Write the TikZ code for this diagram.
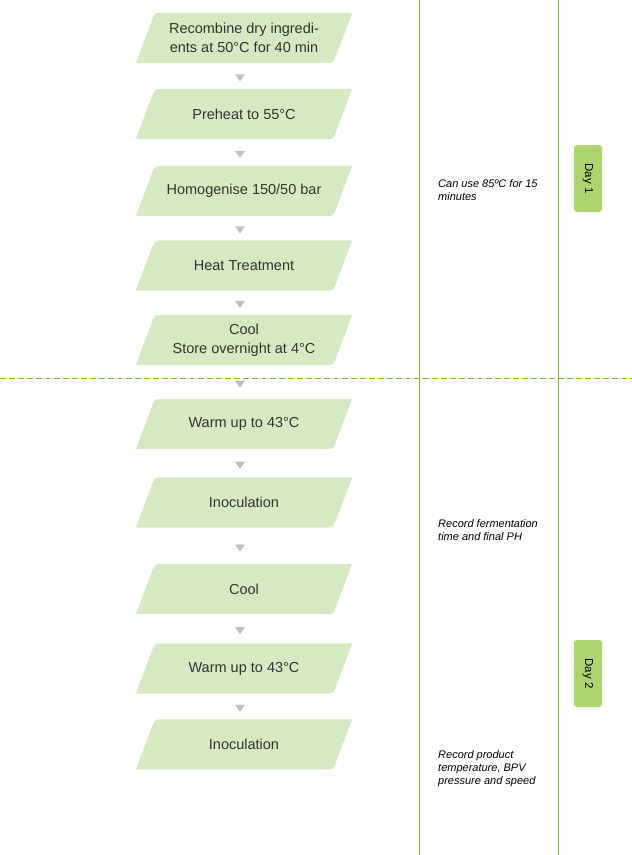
\documentclass[tikz,border=0pt]{standalone}
\usepackage{fontspec}
\setmainfont{Liberation Sans}
\usepackage{tikz}
\usetikzlibrary{calc,backgrounds}
\definecolor{boxgreen}{RGB}{213,234,194}
\definecolor{tabgreen}{RGB}{174,212,112}
\definecolor{linegreen}{RGB}{118,188,34}
\definecolor{arrowgray}{RGB}{192,192,192}
\definecolor{textgray}{RGB}{51,51,51}

\begin{document}
\begin{tikzpicture}[x=1pt,y=-1pt,
  stepbox/.style={minimum width=216pt, minimum height=50pt, inner sep=0pt, align=center, text=textgray, font=\fontsize{14.5}{18.5}\selectfont},
  note/.style={anchor=north west, align=left, inner sep=0pt, font=\fontsize{11}{13}\selectfont\itshape},
  daytab/.style={fill=tabgreen, rounded corners=3pt, minimum width=67pt, minimum height=28pt, inner sep=0pt, rotate=-90, font=\fontsize{11.5}{13}\selectfont}]
\useasboundingbox (0,0) rectangle (632,855);
% Column lines and day divider
\draw[linegreen] (419,0) -- (419,855);
\draw[linegreen] (558,0) -- (558,855);
\draw[linegreen, dash pattern=on 6pt off 3pt] (0,378) -- (632,378);
% Process steps
\node[stepbox] (s1) at (244,38) {Recombine dry ingredi-\\ents at 50°C for 40 min};
\node[stepbox] (s2) at (244,114) {Preheat to 55°C};
\node[stepbox] (s3) at (244,191) {Homogenise 150/50 bar};
\node[stepbox] (s4) at (244,265.5) {Heat Treatment};
\node[stepbox] (s5) at (244,340) {Cool\\Store overnight at 4°C};
\node[stepbox] (s6) at (244,424) {Warm up to 43°C};
\node[stepbox] (s7) at (244,502.5) {Inoculation};
\node[stepbox] (s8) at (244,589) {Cool};
\node[stepbox] (s9) at (244,668.5) {Warm up to 43°C};
\node[stepbox] (s10) at (244,744.5) {Inoculation};
% Slanted boxes behind the text
\begin{scope}[on background layer]
\foreach \i in {1,...,10} {
  \coordinate (tl) at ($(s\i.north west)+(19,0)$);
  \coordinate (tr) at (s\i.north east);
  \coordinate (br) at ($(s\i.south east)+(-19,0)$);
  \coordinate (bl) at (s\i.south west);
  \fill[boxgreen] (bl) -- ($(tl)!9pt!(bl)$) .. controls (tl) .. ($(tl)!9pt!(tr)$)
    -- (tr) -- ($(br)!9pt!(tr)$) .. controls (br) .. ($(br)!9pt!(bl)$) -- cycle;
}
\end{scope}
% Small gray markers between steps
\foreach \a/\b in {s1/s2,s2/s3,s3/s4,s4/s5,s5/s6,s6/s7,s7/s8,s8/s9,s9/s10} {
  \path (\a.south) -- (\b.north) coordinate[pos=0.55] (m);
  \fill[arrowgray] ($(m)+(-9,-3)$) -- ($(m)+(1,-3)$) -- ($(m)+(-4,4)$) -- cycle;
}
% Notes
\node[note] (n1) at (438,179) {Can use 85ºC for 15\\minutes};
\node[note] (n2) at (438,519) {Record fermentation\\time and final PH};
\node[note] (n3) at (438,750) {Record product\\temperature, BPV\\pressure and speed};
% Day tabs
\node[daytab] (d1) at (588,178.5) {Day 1};
\node[daytab] (d2) at (588,673.5) {Day 2};
\end{tikzpicture}
\end{document}
